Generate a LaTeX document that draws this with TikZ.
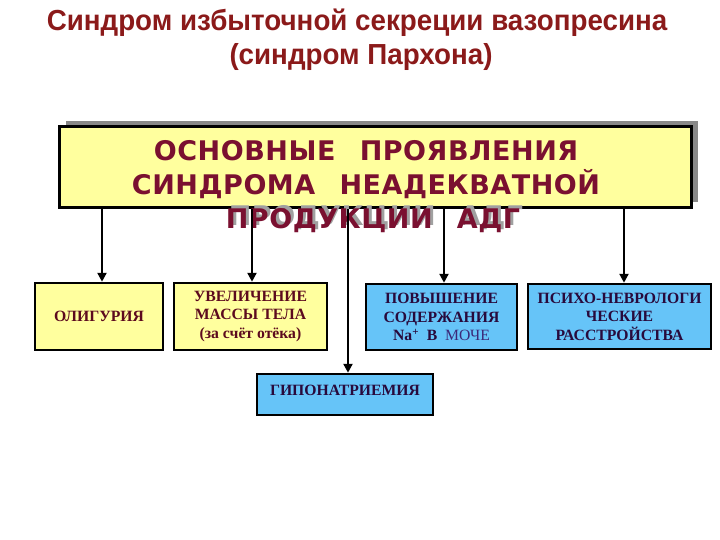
\documentclass[tikz,border=0pt]{standalone}
\usepackage{fontspec}
\setmainfont{Liberation Serif}
\newfontfamily\titlefont{Liberation Sans}
\newfontfamily\headfont[LetterSpace=2]{DejaVu Sans}
\usetikzlibrary{arrows.meta}
\definecolor{titlered}{RGB}{139,26,26}
\definecolor{headred}{RGB}{122,16,48}
\definecolor{boxyellow}{RGB}{255,255,158}
\definecolor{boxblue}{RGB}{102,196,248}
\definecolor{yeltext}{RGB}{92,10,30}
\definecolor{bluetext}{RGB}{40,10,60}
\definecolor{mochecol}{RGB}{60,40,120}
\definecolor{shadowgray}{RGB}{136,136,136}
\newcommand{\shadowtext}[1]{\rlap{\hspace{3pt}\raisebox{3pt}{\color{shadowgray!80}#1}}#1}
\begin{document}
\begin{tikzpicture}[x=1pt,y=-1pt,
  titletext/.style={font=\titlefont\bfseries\fontsize{29}{29}\selectfont, text=titlered, inner sep=0pt},
  headtext/.style={font=\headfont\bfseries\fontsize{27}{27}\selectfont, text=headred, inner sep=0pt},
  mainbox/.style={draw=black, line width=3pt, fill=boxyellow, minimum width=632pt, minimum height=81pt, inner sep=0pt},
  shadowbox/.style={fill=shadowgray, minimum width=632pt, minimum height=81pt, inner sep=0pt},
  lowbox/.style={draw=black, line width=2.5pt, inner sep=0pt, align=center,
    font=\bfseries\fontsize{15.7}{18.5}\selectfont},
  yelbox/.style={lowbox, fill=boxyellow, text=yeltext},
  bluebox/.style={lowbox, fill=boxblue, text=bluetext},
  arr/.style={line width=2.5pt, -{Triangle[width=9pt,length=9pt]}}
]
\useasboundingbox (0,0) rectangle (720,540);

% title
\node[titletext] (t1) at (357,23) {\scalebox{0.957}[1]{Синдром избыточной секреции вазопресина}};
\node[titletext] (t2) at (361,57) {\scalebox{0.957}[1]{(синдром Пархона)}};

% main box
\node[shadowbox] (mainshadow) at (382,161.5) {};
\node[mainbox] (main) at (375,167.5) {};
\node[headtext] (h1) at (366,151) {ОСНОВНЫЕ\hspace{0.9em}ПРОЯВЛЕНИЯ};
\node[headtext] (h2) at (366,184) {СИНДРОМА\hspace{0.9em}НЕАДЕКВАТНОЙ};
\node[headtext] (h3) at (373,219) {\shadowtext{ПРОДУКЦИИ\hspace{0.9em}АДГ}};

% lower boxes
\node[yelbox, minimum width=128pt, minimum height=67pt] (olig) at (99,316.5) {ОЛИГУРИЯ};
\node[yelbox, minimum width=153pt, minimum height=67pt] (uvel) at (250.5,316.5)
  {УВЕЛИЧЕНИЕ\\МАССЫ ТЕЛА\\(за счёт отёка)};
\node[bluebox, minimum width=151pt, minimum height=66pt] (povysh) at (441.5,317)
  {ПОВЫШЕНИЕ\\СОДЕРЖАНИЯ\\Na\textsuperscript{+}\ \ В\ \ {\mdseries\color{mochecol}МОЧЕ}};
\node[bluebox, minimum width=183pt, minimum height=65pt] (psycho) at (619.5,316.5)
  {ПСИХО-НЕВРОЛОГИ\\ЧЕСКИЕ\\РАССТРОЙСТВА};
\node[bluebox, minimum width=176pt, minimum height=41pt] (hypo) at (345,394.5) {};
\node[inner sep=0pt, text=bluetext, font=\bfseries\fontsize{15.7}{18.5}\selectfont] (hypot) at (345,390) {ГИПОНАТРИЕМИЯ};

% connectors
\draw[arr] ([xshift=3pt]olig.north |- main.south) -- ([xshift=3pt]olig.north);
\draw[arr] ([xshift=1.5pt]uvel.north |- main.south) -- ([xshift=1.5pt]uvel.north);
\draw[arr] ([xshift=3pt]hypo.north |- main.south) -- ([xshift=3pt]hypo.north);
\draw[arr] ([xshift=2.5pt]povysh.north |- main.south) -- ([xshift=2.5pt]povysh.north);
\draw[arr] ([xshift=4.5pt]psycho.north |- main.south) -- ([xshift=4.5pt]psycho.north);
\end{tikzpicture}
\end{document}
